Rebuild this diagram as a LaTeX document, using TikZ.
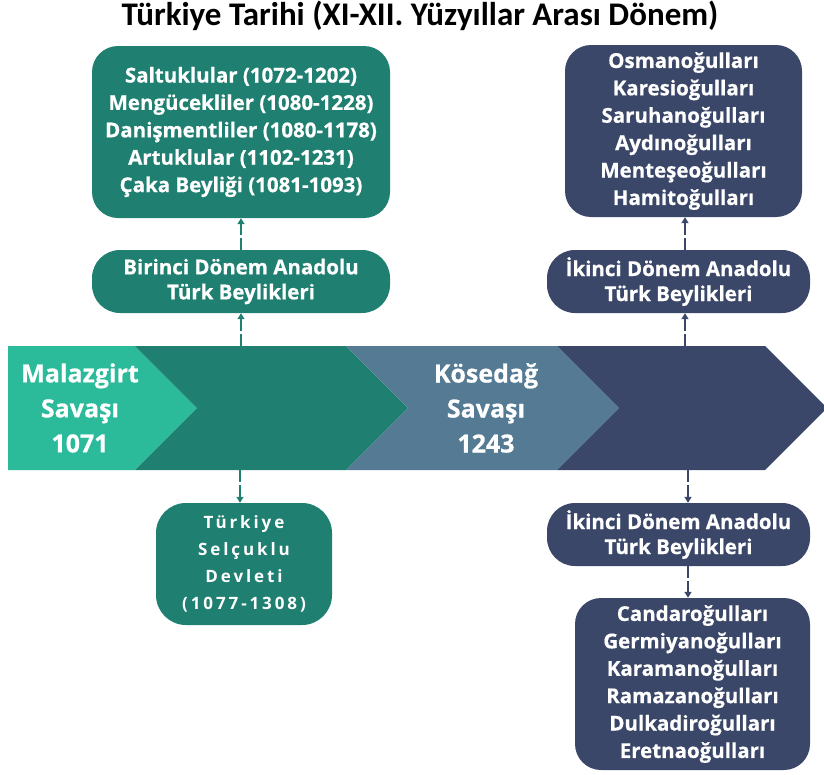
\documentclass[tikz,border=0pt]{standalone}
\usepackage{fontspec}
\setmainfont{Open Sans}
\newfontfamily\titlefont{Carlito}
\newfontfamily\heavyfont{Open Sans}[BoldFeatures={FakeBold=0.6}]
\usetikzlibrary{arrows.meta}
\definecolor{lteal}{HTML}{2BBB9B}
\definecolor{dteal}{HTML}{1F7F70}
\definecolor{slate}{HTML}{547A94}
\definecolor{navy}{HTML}{3B4769}
\tikzset{
  box/.style={rectangle, rounded corners=26pt, inner sep=0pt, align=center, text=white,
    font=\heavyfont\fontsize{20.5}{27.4}\selectfont\bfseries},
  pill/.style={box, rounded corners=28pt, font=\heavyfont\fontsize{20.5}{25}\selectfont\bfseries},
  conn/.style={line width=1.4pt, dash pattern=on 12pt off 3pt,
    -{Triangle[length=6pt,width=7pt]}},
  bandtext/.style={align=center, text=white, inner sep=0pt,
    font=\heavyfont\fontsize{25}{35}\selectfont\bfseries}
}
\begin{document}
\begin{tikzpicture}[x=1pt,y=-1pt]
\useasboundingbox (0,0) rectangle (824,774);
% title
\node[font=\titlefont\fontsize{33}{36}\selectfont\bfseries] (title) at (420,16)
  {Türkiye Tarihi (XI-XII. Yüzyıllar Arası Dönem)};
% band
\fill[lteal] (8,346) -- (135,346) -- (197,408) -- (135,470) -- (8,470) -- cycle;
\fill[dteal] (135,346) -- (346,346) -- (408,408) -- (346,470) -- (135,470) -- (197,408) -- cycle;
\fill[slate] (346,346) -- (557,346) -- (619,408) -- (557,470) -- (346,470) -- (408,408) -- cycle;
\fill[navy] (557,346) -- (765,346) -- (827,408) -- (765,470) -- (557,470) -- (619,408) -- cycle;
\node[bandtext] (malaz) at (80,408) {Malazgirt\\Savaşı\\1071};
\node[bandtext] (kose) at (486,408) {Kösedağ\\Savaşı\\1243};
\coordinate (lt) at (241,346);
\coordinate (lb) at (240,470);
\coordinate (rt) at (685,346);
\coordinate (rb) at (688,470);
% boxes
\node[box, fill=dteal, minimum width=298pt, minimum height=172pt] (beyl1) at (241,132)
  {Saltuklular (1072-1202)\\Mengücekliler (1080-1228)\\Danişmentliler (1080-1178)\\Artuklular (1102-1231)\\Çaka Beyliği (1081-1093)};
\node[pill, fill=dteal, minimum width=298pt, minimum height=63pt] (bir) at (241,281.5)
  {Birinci Dönem Anadolu\\Türk Beylikleri};
\node[box, fill=dteal, rounded corners=30pt, minimum width=176pt, minimum height=122pt,
  font=\fontsize{17}{27}\selectfont\bfseries\addfontfeature{LetterSpace=17}] (selc) at (244,564)
  {Türkiye\\Selçuklu\\Devleti\\(1077-1308)};
\node[box, fill=navy, minimum width=237pt, minimum height=172pt] (osm) at (683.5,131)
  {Osmanoğulları\\Karesioğulları\\Saruhanoğulları\\Aydınoğulları\\Menteşeoğulları\\Hamitoğulları};
\node[pill, fill=navy, minimum width=263pt, minimum height=63pt] (ik1) at (678.5,281.5)
  {İkinci Dönem Anadolu\\Türk Beylikleri};
\node[pill, fill=navy, minimum width=263pt, minimum height=63pt] (ik2) at (678.5,534.5)
  {İkinci Dönem Anadolu\\Türk Beylikleri};
\node[box, fill=navy, minimum width=235pt, minimum height=172pt] (son) at (692.5,684)
  {Candaroğulları\\Germiyanoğulları\\Karamanoğulları\\Ramazanoğulları\\Dulkadiroğulları\\Eretnaoğulları};
% connectors
\draw[conn, dteal] (lt) -- (lt |- bir.south);
\draw[conn, dteal] (lt |- bir.north) -- (lt |- beyl1.south);
\draw[conn, dteal] (lb) -- (lb |- selc.north);
\draw[conn, navy] (rt) -- (rt |- ik1.south);
\draw[conn, navy] (rt |- ik1.north) -- (rt |- osm.south);
\draw[conn, navy] (rb) -- (rb |- ik2.north);
\draw[conn, navy] (rb |- ik2.south) -- (rb |- son.north);
\end{tikzpicture}
\end{document}
